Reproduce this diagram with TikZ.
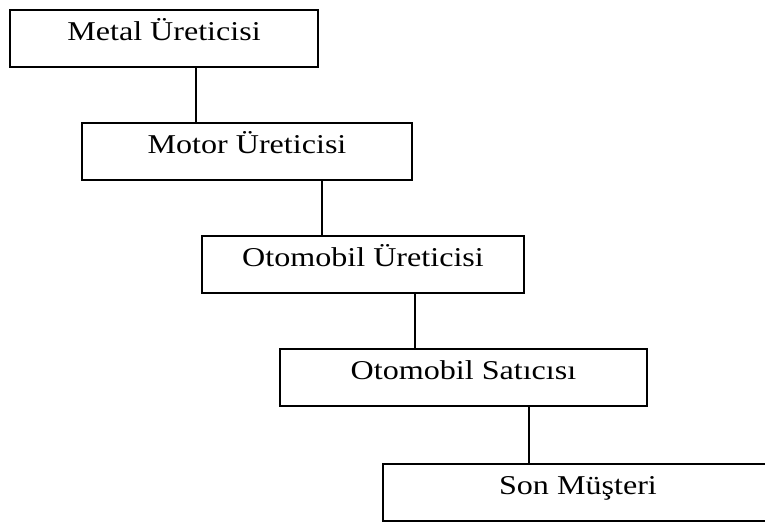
\documentclass[tikz,border=0pt]{standalone}
\usepackage{fontspec}
\setmainfont{Liberation Serif}
\usetikzlibrary{positioning}
\newcommand{\widetext}[1]{\scalebox{1.18}[1]{#1}}
\tikzset{
    % Boxes with sharp corners, label near the top
    stage/.style={
        rectangle,
        draw=black,
        line width=2pt,
        inner sep=0pt,
        outer sep=0pt,
        text height=30pt,
        text depth=27pt,
        minimum height=57pt,
        anchor=north west,
        font=\fontsize{27.2}{31}\selectfont
    },
    link style/.style={
        line width=2pt,
        black
    }
}
\begin{document}
\begin{tikzpicture}[x=1pt, y=-1pt]
        \useasboundingbox (0,0) rectangle (765,523);

        % Metal
        \node[stage, minimum width=308pt] (metal) at (10,10) {\widetext{Metal Üreticisi}};

        % Motor
        \node[stage, minimum width=330pt] (motor) at (82,123) {\widetext{Motor Üreticisi}};

        % Otomobil
        \node[stage, minimum width=322pt] (otomobil) at (202,236) {\widetext{Otomobil Üreticisi}};

        % Satici
        \node[stage, minimum width=367pt] (satici) at (280,349) {\widetext{Otomobil Satıcısı}};

        % Musteri
        \node[stage, minimum width=390pt] (musteri) at (383,464) {\widetext{Son Müşteri}};

        % Chain lines
        \draw[link style] ([xshift=186pt]metal.south west) -- ([xshift=114pt]motor.north west);
        \draw[link style] ([xshift=240pt]motor.south west) -- ([xshift=120pt]otomobil.north west);
        \draw[link style] ([xshift=213pt]otomobil.south west) -- ([xshift=135pt]satici.north west);
        \draw[link style] ([xshift=249pt]satici.south west) -- ([xshift=146pt]musteri.north west);
    \end{tikzpicture}
\end{document}
